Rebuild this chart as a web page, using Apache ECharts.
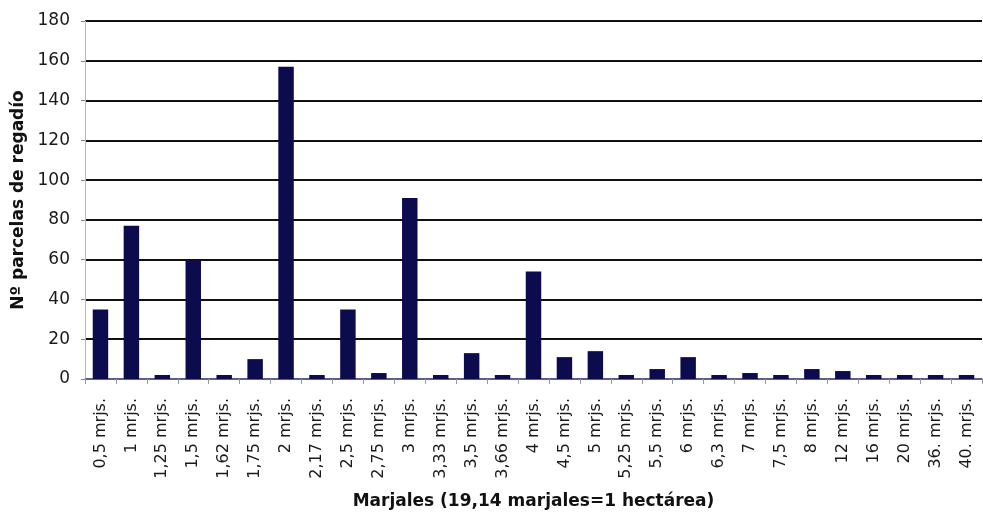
<!DOCTYPE html>
<html>
<head>
<meta charset="utf-8">
<script src="https://cdn.jsdelivr.net/npm/echarts@6/dist/echarts.min.js"></script>
<style>html,body{margin:0;padding:0;background:#fff;}#c{width:983px;height:515px;}</style>
</head>
<body>
<div id="c"></div>
<script>
const categories = ["0,5 mrjs.","1 mrjs.","1,25 mrjs.","1,5 mrjs.","1,62 mrjs.","1,75 mrjs.","2 mrjs.","2,17 mrjs.","2,5 mrjs.","2,75 mrjs.","3 mrjs.","3,33 mrjs.","3,5 mrjs.","3,66 mrjs.","4 mrjs.","4,5 mrjs.","5 mrjs.","5,25 mrjs.","5,5 mrjs.","6 mrjs.","6,3 mrjs.","7 mrjs.","7,5 mrjs.","8 mrjs.","12 mrjs.","16 mrjs.","20 mrjs.","36. mrjs.","40. mrjs."];
const parcelas = [35,77,2,60,2,10,157,2,35,3,91,2,13,2,54,11,14,2,5,11,2,3,2,5,4,2,2,2,2];
const yTitle = "Nº parcelas de regadío";
const xTitle = "Marjales (19,14 marjales=1 hectárea)";

const chart = echarts.init(document.getElementById('c'), null, {renderer:'canvas'});
chart.setOption({
  animation:false,
  backgroundColor:'#ffffff',
  textStyle:{fontFamily:'DejaVu Sans'},
  grid:{left:85, right:1, top:21, bottom:135, containLabel:false},
  xAxis:{
    type:'category',
    data:categories,
    boundaryGap:true,
    name:xTitle,
    nameLocation:'middle',
    nameGap:114,
    nameTextStyle:{fontFamily:'DejaVu Sans', fontWeight:'bold', fontSize:17, color:'#111'},
    axisLine:{show:true, lineStyle:{color:'#7878b0', width:1.5}},
    axisTick:{show:true, alignWithLabel:false, length:5, lineStyle:{color:'#999'}},
    axisLabel:{rotate:90, interval:0, margin:19, fontSize:16, color:'#1a1a1a', fontFamily:'DejaVu Sans'},
    splitLine:{show:false}
  },
  yAxis:{
    type:'value',
    min:0, max:180, interval:20,
    name:yTitle,
    nameLocation:'middle',
    nameGap:57,
    nameTextStyle:{fontFamily:'DejaVu Sans', fontWeight:'bold', fontSize:17, color:'#111'},
    axisLine:{show:true, lineStyle:{color:'#bbbbbb', width:1}},
    axisTick:{show:true, length:4, lineStyle:{color:'#888'}},
    axisLabel:{margin:15, fontSize:17, color:'#1a1a1a', fontFamily:'DejaVu Sans'},
    splitLine:{show:true, lineStyle:{color:'#111', width:2}}
  },
  series:[{
    type:'bar',
    data:parcelas,
    barWidth:'50%',
    itemStyle:{color:'#0b0b4e'}
  }]
});
</script>
</body>
</html>
